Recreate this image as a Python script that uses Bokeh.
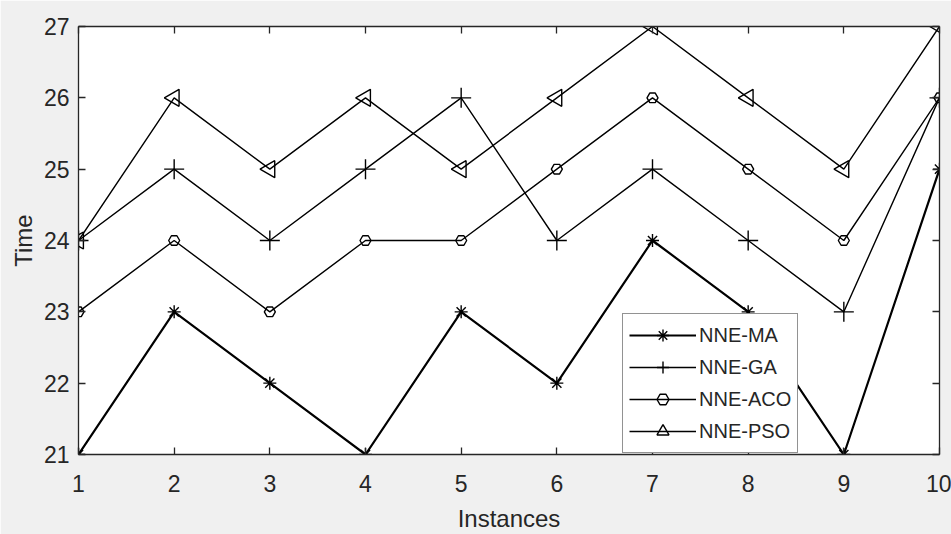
import numpy as np
from bokeh.plotting import figure
from bokeh.models import LinearAxis, Range1d, FixedTicker, Legend
from bokeh.embed import file_html
from bokeh.resources import INLINE

instances = [1, 2, 3, 4, 5, 6, 7, 8, 9, 10]
nne_ma = [21, 23, 22, 21, 23, 22, 24, 23, 21, 25]
nne_ga = [24, 25, 24, 25, 26, 24, 25, 24, 23, 26]
nne_aco = [23, 24, 23, 24, 24, 25, 26, 25, 24, 26]
nne_pso = [24, 26, 25, 26, 25, 26, 27, 26, 25, 27]
y_ticks = [21, 22, 23, 24, 25, 26, 27]

FONT = "Liberation Sans"
AX = "#262626"

p = figure(width=951, height=534, output_backend="svg", toolbar_location=None,
           x_range=Range1d(1, 10), y_range=Range1d(21, 27),
           min_border_left=78, min_border_right=12, min_border_top=26, min_border_bottom=79,
           border_fill_color="#f0f0f0", background_fill_color="white")
p.xgrid.visible = False
p.ygrid.visible = False
p.outline_line_color = None

def style_axis(ax, labels=True):
    ax.axis_line_color = AX
    ax.axis_line_width = 1.3
    ax.major_tick_line_color = AX
    ax.major_tick_line_width = 1.3
    ax.major_tick_in = 7
    ax.major_tick_out = 0
    ax.minor_tick_line_color = None
    ax.major_label_text_font = FONT
    ax.major_label_text_color = AX
    ax.axis_label_text_font = FONT
    ax.axis_label_text_color = AX
    ax.axis_label_text_font_style = "normal"
    if labels:
        ax.major_label_text_font_size = "23px"
        ax.axis_label_text_font_size = "24px"
    else:
        ax.major_label_text_font_size = "0px"
        ax.major_label_standoff = 0

p.xaxis.ticker = FixedTicker(ticks=instances)
p.yaxis.ticker = FixedTicker(ticks=y_ticks)
p.xaxis.axis_label = "Instances"
p.yaxis.axis_label = "Time"
style_axis(p.xaxis[0])
style_axis(p.yaxis[0])
p.xaxis.major_label_standoff = 20
p.xaxis.axis_label_standoff = 10
p.yaxis.major_label_standoff = 9
p.yaxis.axis_label_standoff = 4

top = LinearAxis(ticker=FixedTicker(ticks=instances))
right = LinearAxis(ticker=FixedTicker(ticks=y_ticks))
style_axis(top, labels=False)
style_axis(right, labels=False)
p.add_layout(top, "above")
p.add_layout(right, "right")

items = []
series = [
    ("NNE-MA", nne_ma, "asterisk", 13, 2.2, 0.0),
    ("NNE-GA", nne_ga, "cross", 20, 1.4, 0.0),
    ("NNE-ACO", nne_aco, "hex", 11, 1.4, 0.0),
    ("NNE-PSO", nne_pso, "triangle", 17, 1.4, np.pi / 2),
]
for name, vals, marker, size, lw, ang in series:
    r1 = p.line(instances, vals, line_color="black", line_width=lw)
    r2 = p.scatter(instances, vals, marker=marker, size=size, angle=ang,
                   line_color="black", line_width=1.4, fill_color=None)
    items.append((name, [r1, r2]))

legend = Legend(items=items, location=(544, 1))
legend.label_text_font = FONT
legend.label_text_font_size = "20px"
legend.label_text_color = AX
legend.glyph_width = 67
legend.glyph_height = 30
legend.label_height = 30
legend.spacing = 2
legend.padding = 6
legend.margin = 0
legend.label_standoff = 3
legend.border_line_color = AX
legend.border_line_width = 1.2
legend.background_fill_color = "white"
legend.background_fill_alpha = 1.0
p.add_layout(legend, "center")

open("out.html", "w").write(file_html(p, INLINE))
